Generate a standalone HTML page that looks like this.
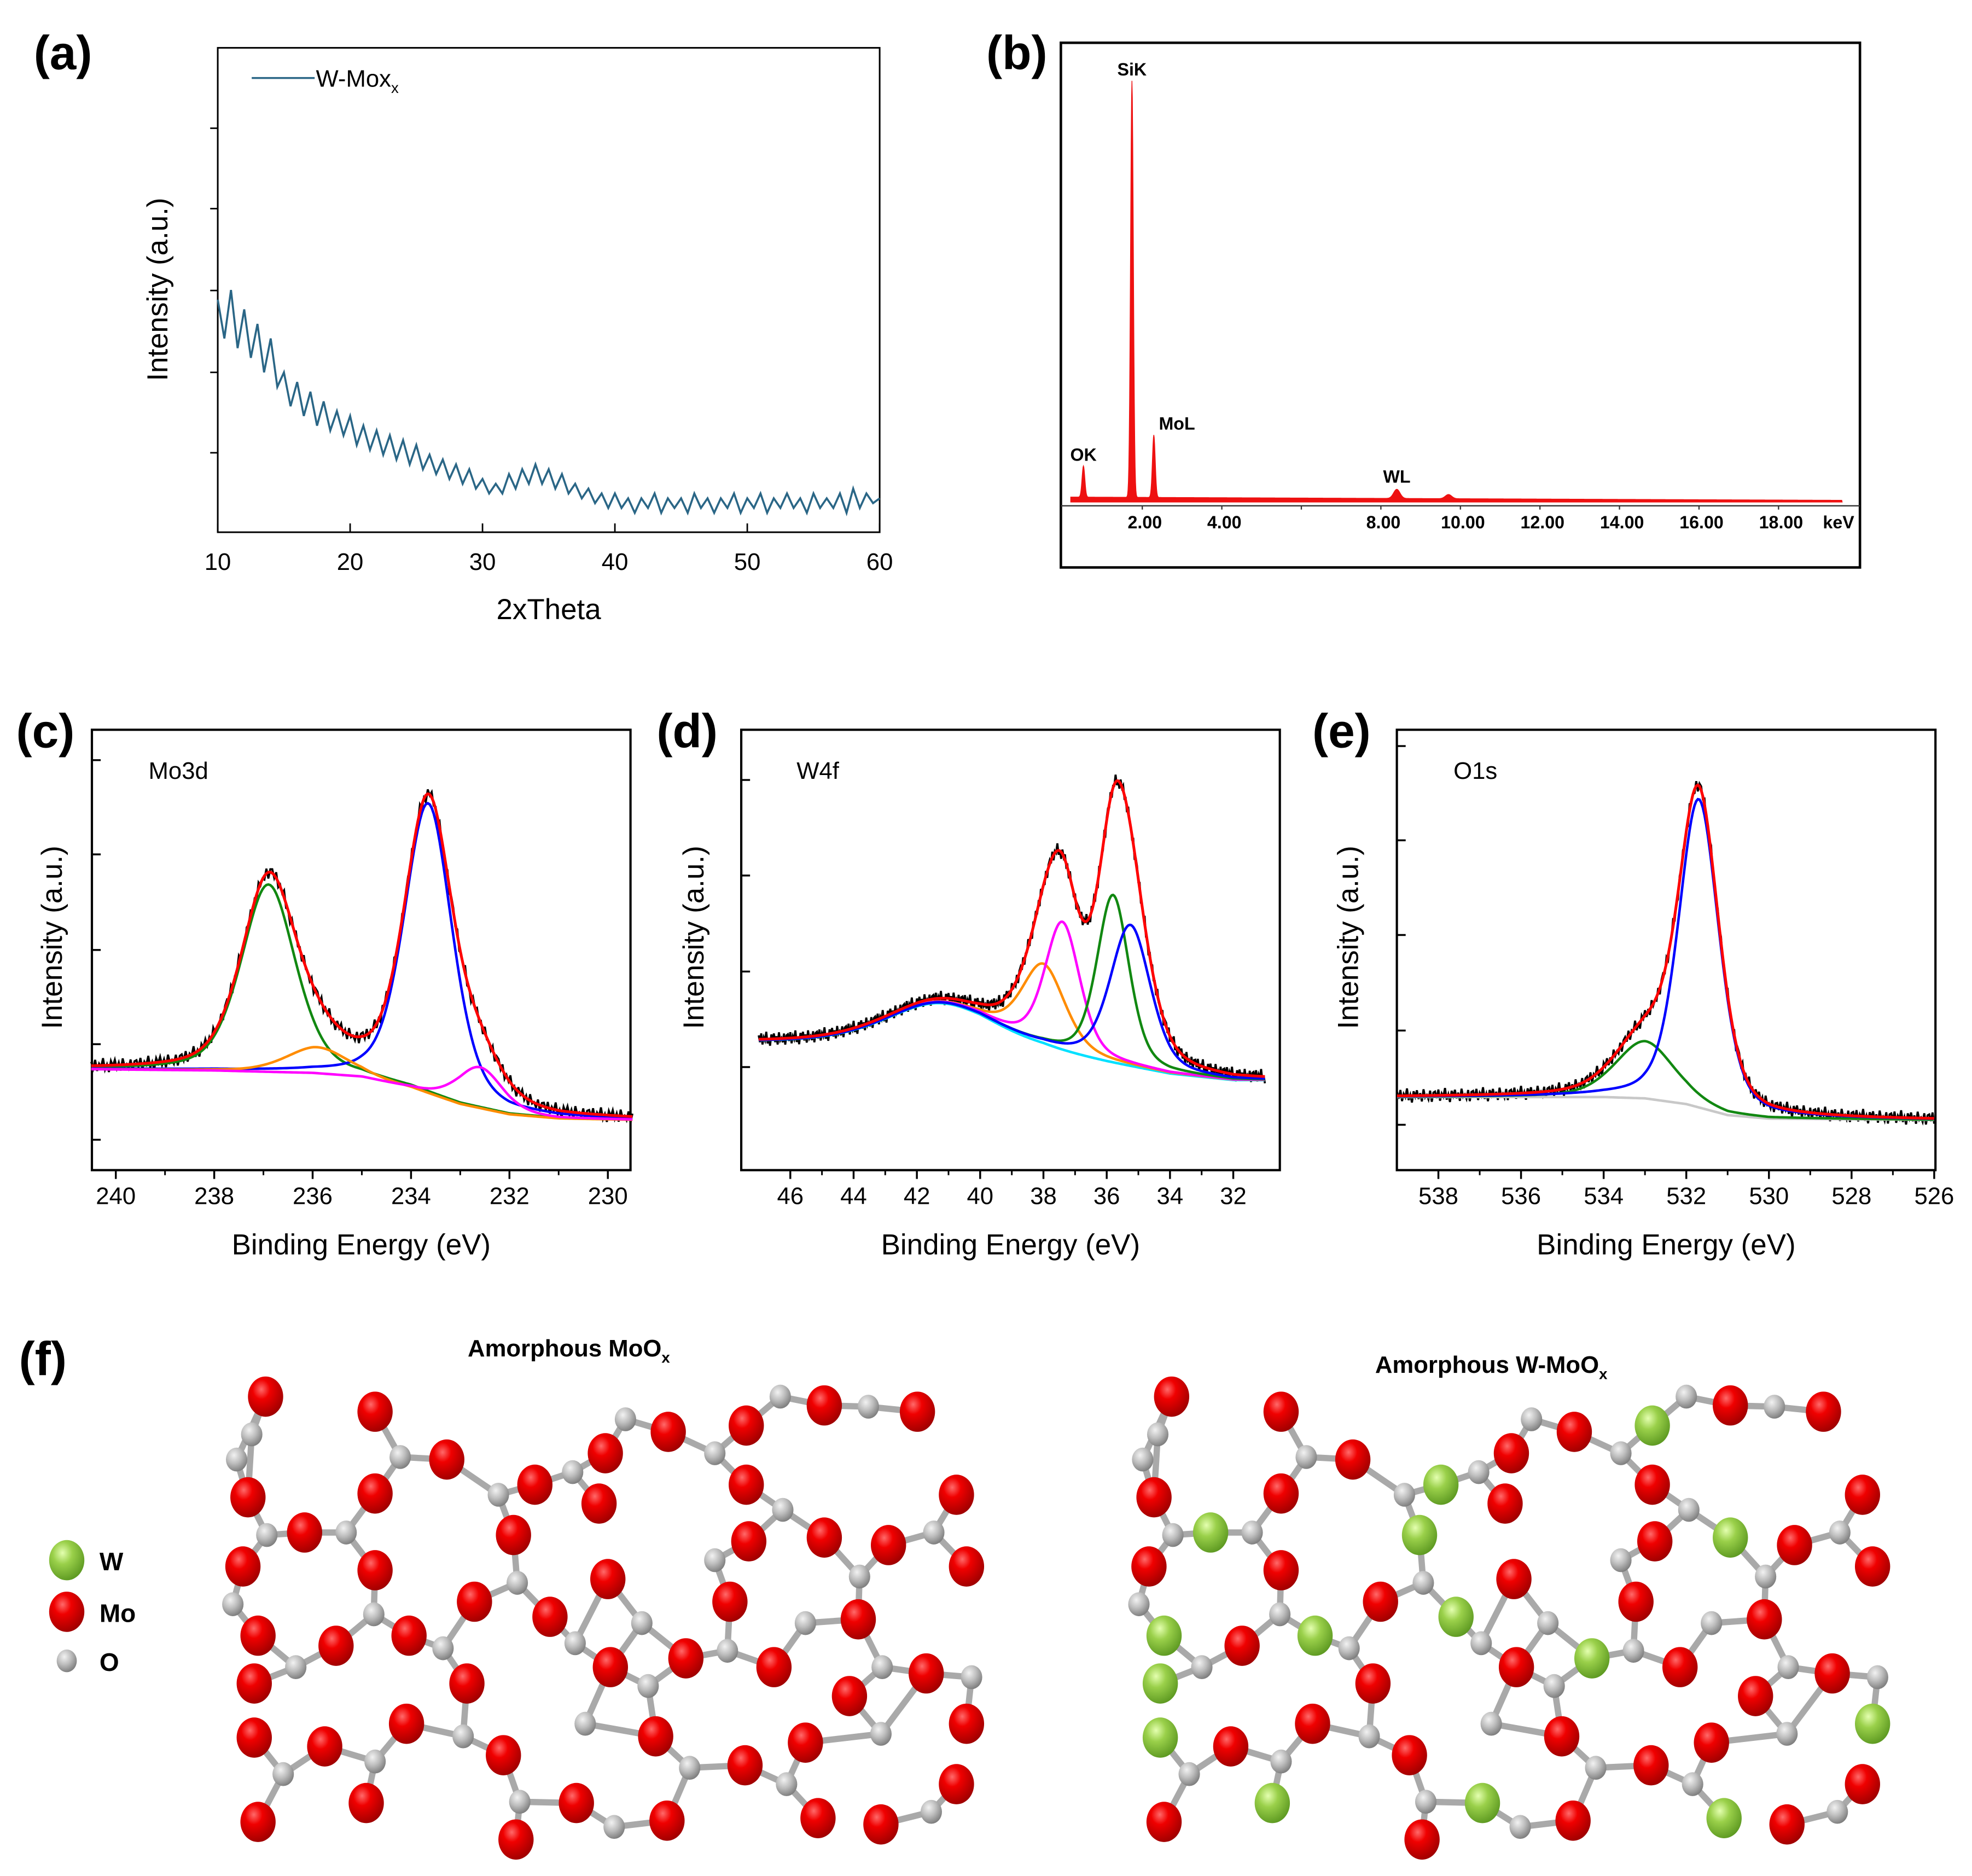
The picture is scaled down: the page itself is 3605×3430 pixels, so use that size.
<!DOCTYPE html>
<html><head><meta charset="utf-8"><style>
html,body{margin:0;padding:0;background:#fff}
svg{display:block}
text{font-family:"Liberation Sans",Arial,sans-serif}
</style></head><body>
<svg id="fig" xmlns="http://www.w3.org/2000/svg" width="3605" height="3430" viewBox="0 0 1567 1491">
<defs>
<radialGradient id="gRed" cx="0.38" cy="0.32" r="0.7"><stop offset="0" stop-color="#ff6a6a"/><stop offset="0.35" stop-color="#f00000"/><stop offset="1" stop-color="#a00000"/></radialGradient>
<radialGradient id="gGreen" cx="0.38" cy="0.32" r="0.7"><stop offset="0" stop-color="#e4ffb0"/><stop offset="0.4" stop-color="#9ad04a"/><stop offset="1" stop-color="#5e9a22"/></radialGradient>
<radialGradient id="gGray" cx="0.38" cy="0.32" r="0.7"><stop offset="0" stop-color="#f2f2f2"/><stop offset="0.5" stop-color="#bdbdbd"/><stop offset="1" stop-color="#7d7d7d"/></radialGradient>
</defs>
<g id="layer"></g>
<text x="50" y="55" font-size="38" font-weight="bold" text-anchor="middle">(a)</text>
<text x="808" y="55" font-size="38" font-weight="bold" text-anchor="middle">(b)</text>
<text x="36" y="594" font-size="38" font-weight="bold" text-anchor="middle">(c)</text>
<text x="546" y="594" font-size="38" font-weight="bold" text-anchor="middle">(d)</text>
<text x="1066" y="594" font-size="38" font-weight="bold" text-anchor="middle">(e)</text>
<text x="34" y="1093" font-size="38" font-weight="bold" text-anchor="middle">(f)</text>
<text x="436" y="492" font-size="23" text-anchor="middle">2xTheta</text>
<text transform="translate(133,230) rotate(-90)" font-size="23" text-anchor="middle">Intensity (a.u.)</text>
<line x1="200" y1="62" x2="250" y2="62" stroke="#2a6686" stroke-width="1.5"/>
<text x="251" y="69" font-size="19">W-Mox<tspan font-size="12" dy="5">x</tspan></text>
<text x="287" y="997" font-size="23" text-anchor="middle">Binding Energy (eV)</text>
<text x="803" y="997" font-size="23" text-anchor="middle">Binding Energy (eV)</text>
<text x="1324" y="997" font-size="23" text-anchor="middle">Binding Energy (eV)</text>
<text transform="translate(49,745) rotate(-90)" font-size="23" text-anchor="middle">Intensity (a.u.)</text>
<text transform="translate(559,745) rotate(-90)" font-size="23" text-anchor="middle">Intensity (a.u.)</text>
<text transform="translate(1079,745) rotate(-90)" font-size="23" text-anchor="middle">Intensity (a.u.)</text>
<text x="118" y="619" font-size="19">Mo3d</text>
<text x="633" y="619" font-size="19">W4f</text>
<text x="1155" y="619" font-size="19">O1s</text>
<text x="452" y="1078" font-size="19" font-weight="bold" text-anchor="middle">Amorphous MoO<tspan font-size="12" dy="5">x</tspan></text>
<text x="1185" y="1091" font-size="19" font-weight="bold" text-anchor="middle">Amorphous W-MoO<tspan font-size="12" dy="5">x</tspan></text>
<g>
<ellipse cx="53" cy="1240" rx="14" ry="16" fill="url(#gGreen)"/>
<text x="79" y="1248" font-size="20" font-weight="bold">W</text>
<ellipse cx="53" cy="1281" rx="14" ry="16" fill="url(#gRed)"/>
<text x="79" y="1289" font-size="20" font-weight="bold">Mo</text>
<ellipse cx="53" cy="1320" rx="8" ry="9" fill="url(#gGray)"/>
<text x="79" y="1328" font-size="20" font-weight="bold">O</text>
</g>
</svg>
<script>
// ---------- data (a) XRD ----------
const xrdStart = 10, xrdStep = 0.5;
const xrdIntensity = [48,40,50,38,46,36,43,33,40,30, 33,26,31,24,29,22,27,21,25,20, 24,18,22,17,21,16,20,15,19,14, 18,13,16,12,15,11,14,10,13,9, 11,8,10,8,12,9,13,10,14,10, 13,9,12,8,10,7,9,6,8,5, 8,5,7,4,7,5,8,4,7,5, 7,4,8,5,7,4,7,5,8,4, 7,5,8,4,7,5,8,5,7,4, 8,5,7,5,8,4,9,5,8,6, 7];
const xrdXTicks = [10,20,30,40,50,60];
const xrdYTicks = [16.4,33,49.9,66.8,83.4];
// ---------- data (b) EDS ----------
const edsLabels = ['OK','SiK','MoL','WL',''];
const edsEnergy = [0.52,1.74,2.29,8.4,9.7];
const edsCounts = [7.5,100,15,2.2,1];
const edsTicks = [2,4,6,8,10,12,14,16,18];
const edsTickLabels = ['2.00','4.00','','8.00','10.00','12.00','14.00','16.00','18.00'];
// ---------- data (c) Mo3d ----------
const moBg = [[240.5,22.9],[238,22.6],[236,22],[235,21.1],[234,18.6],[233,14.9],[232,12.6],[231,11.7],[229.5,11.4]];
const moCenters = [236.9,233.65,235.9,232.6];
const moHeights = [42.6,66,6,9.4];
const moWidths = [1.3,1.15,1.5,1.1];
const moColors = ['#118811','#0000ff','#ff8c00','#ff00ff'];
const moXTicks = [240,238,236,234,232,230];
const moYTicks = [6.9,28.6,50,71.7,93.1];
// ---------- data (d) W4f ----------
const wBg = [[47,29.1],[42,29],[40,28.8],[38,27.1],[36,24.3],[34,21.7],[32,20.3],[31,20.3]];
const wBroadCenter = 41.3, wBroadHeight = 9, wBroadWidth = 4;
const wCenters = [38.0,37.4,35.8,35.25];
const wHeights = [18,29,38,32];
const wWidths = [1.6,1.3,1.2,1.5];
const wColors = ['#ff8c00','#ff00ff','#118811','#0000ff'];
const wXTicks = [46,44,42,40,38,36,34,32];
const wYTicks = [23.4,45.1,66.9,88.6];
// ---------- data (e) O1s ----------
const oBg = [[539,16.6],[534,16.6],[533,16.3],[532,15],[531,12.5],[530,11.7],[526,11.4]];
const oCenters = [533.0,531.7];
const oHeights = [13,70];
const oWidths = [1.7,1.15];
const oColors = ['#118811','#0000ff'];
const oXTicks = [538,536,534,532,530,528,526];
const oYTicks = [10.3,31.7,53.4,74.9,96.3];
// measurement noise residuals (hand-read, cycled)
const noise = [0.8,-0.6,1.2,-1.1,0.4,-0.3,1.5,-0.9,0.2,-1.4,0.9,-0.2,1.1,-0.7,0.5,-1.2,1.3,-0.4,0.1,-0.8,1.0,-1.3,0.6];

const NS='http://www.w3.org/2000/svg';
const layer=document.getElementById('layer');
function mk(tag,attrs){const e=document.createElementNS(NS,tag);for(const k in attrs)e.setAttribute(k,attrs[k]);layer.appendChild(e);return e;}
function pathD(pts){return pts.map((p,i)=>(i?'L':'M')+p[0].toFixed(2)+' '+p[1].toFixed(2)).join('');}
function interp(tbl,x){for(let i=0;i<tbl.length-1;i++){const a=tbl[i],b=tbl[i+1];if((x<=a[0]&&x>=b[0])||(x>=a[0]&&x<=b[0])){const t=(x-a[0])/(b[0]-a[0]);return a[1]+t*(b[1]-a[1]);}}return tbl[tbl.length-1][1];}
function pv(x,c,h,w){const u=(x-c)/w;return h*(0.6*Math.exp(-4*Math.LN2*u*u)+0.4/(1+4*u*u));}

// ---------- panel (a) ----------
{
const x0=173,x1=699,y0=38,y1=423;
const sx=v=>x0+(v-10)/50*(x1-x0), sy=v=>y1-v/100*(y1-y0);
const f=mk('rect',{x:x0,y:y0,width:x1-x0,height:y1-y0,fill:'none',stroke:'#000','stroke-width':1.3});


xrdXTicks.forEach(t=>{
 const l=mk('line',{x1:sx(t),x2:sx(t),y1:y1,y2:y1-7,stroke:'#000','stroke-width':1.2});
 
 
 const tx=mk('text',{x:sx(t),y:y1+30,'font-size':19,'text-anchor':'middle'});tx.textContent=t;
 
 
});
xrdYTicks.forEach(t=>{
 const l=mk('line',{x1:x0,x2:x0-6,y1:sy(t),y2:sy(t),stroke:'#000','stroke-width':1.2});
 
 
});
const pts=xrdIntensity.map((v,i)=>[sx(xrdStart+i*xrdStep),sy(v)]);
const p=mk('path',{d:pathD(pts),fill:'none',stroke:'#2a6686','stroke-width':1.6});


}
// ---------- panel (b) ----------
{
const fr=mk('rect',{x:843,y:34,width:635,height:417,fill:'none',stroke:'#000','stroke-width':2});


const bx=v=>844.5+v*31.6, by=v=>399-v*3.31, base=399;
const ax=mk('line',{x1:843,x2:1478,y1:402,y2:402,stroke:'#333','stroke-width':1});


edsTicks.forEach((t,i)=>{
 const l=mk('line',{x1:bx(t),x2:bx(t),y1:402,y2:405,stroke:'#333','stroke-width':1});
 
 
 const tx=mk('text',{x:bx(t)+2,y:420,'font-size':14,'font-weight':'bold','text-anchor':'middle'});tx.textContent=edsTickLabels[i];
 
 
});
const kv=mk('text',{x:1461,y:420,'font-size':14,'font-weight':'bold','text-anchor':'middle'});kv.textContent='keV';


const pts=[[bx(0.2),base]];
for(let e=0.2;e<=19.6;e+=0.01){let c=1.2-e*0.04;if(c<0.3)c=0.3;edsEnergy.forEach((en,i)=>{const s=en<3?0.035:0.08;c+=edsCounts[i]*Math.exp(-0.5*((e-en)/s)**2);});pts.push([bx(e),by(c)]);}
pts.push([bx(19.6),base]);
const sp=mk('path',{d:pathD(pts)+'Z',fill:'#ee1111',stroke:'#ee1111','stroke-width':0.6});


edsLabels.forEach((lb,i)=>{if(!lb)return;
 const tx=mk('text',{x:bx(edsEnergy[i])+(lb==='MoL'?4:0),y:by(edsCounts[i])-8,'font-size':14,'font-weight':'bold','text-anchor':lb==='MoL'?'start':'middle'});tx.textContent=lb;
 
 
});
}
// ---------- XPS helper ----------
function xps(cfg){
 const {x0,x1,lo,hi,xa,xb,ticks,yticks,bg,comps,broad,key}=cfg;
 const y0=580,y1=930;
 const sx=v=>xa+(v-ticks[0])*(xb-xa)/(ticks[ticks.length-1]-ticks[0]);
 const sy=v=>y1-v*3.5;
 const f=mk('rect',{x:x0,y:y0,width:x1-x0,height:y1-y0,fill:'none',stroke:'#000','stroke-width':1.8});
 
 
 ticks.forEach(t=>{
  const l=mk('line',{x1:sx(t),x2:sx(t),y1:y1,y2:y1+7,stroke:'#000','stroke-width':1.5});
  
  
  const tx=mk('text',{x:sx(t),y:957,'font-size':19,'text-anchor':'middle'});tx.textContent=t;
  
  
 });
 for(let i=0;i<ticks.length-1;i++){const m=(ticks[i]+ticks[i+1])/2;
  const l=mk('line',{x1:sx(m),x2:sx(m),y1:y1,y2:y1+4,stroke:'#000','stroke-width':1.3});
  
  }
 yticks.forEach(t=>{
  const l=mk('line',{x1:x0,x2:x0+7,y1:sy(t),y2:sy(t),stroke:'#000','stroke-width':1.5});
  
  
 });
 const xs=[];for(let x=hi;x>=lo-1e-9;x-=0.04)xs.push(x);
 const broadAt=x=>broad?pv(x,broad.c,broad.h,broad.w):0;
 const env=xs.map(x=>interp(bg,x)+broadAt(x)+comps.reduce((s,c)=>s+pv(x,c.c,c.h,c.w),0));
 const data=xs.map((x,i)=>[sx(x),sy(env[i]+noise[i%noise.length]*1.1)]);
 const bp=mk('path',{d:pathD(data),fill:'none',stroke:'#000','stroke-width':1.6});
 
 
 if(cfg.bgColor){const g=mk('path',{d:pathD(xs.map(x=>[sx(x),sy(interp(bg,x))])),fill:'none',stroke:cfg.bgColor,'stroke-width':2});
  
  }
 if(broad){const g=mk('path',{d:pathD(xs.map(x=>[sx(x),sy(interp(bg,x)+broadAt(x))])),fill:'none',stroke:'#00e0ff','stroke-width':2});
  
  }
 comps.forEach(c=>{
  const g=mk('path',{d:pathD(xs.map(x=>[sx(x),sy(interp(bg,x)+broadAt(x)+pv(x,c.c,c.h,c.w))])),fill:'none',stroke:c.col,'stroke-width':2});
  
  
 });
 const r=mk('path',{d:pathD(xs.map((x,i)=>[sx(x),sy(env[i])])),fill:'none',stroke:'#ff0000','stroke-width':2.2});
 
 
}
xps({key:'c',x0:73,x1:501,lo:229.5,hi:240.5,xa:92,xb:483,ticks:moXTicks,yticks:moYTicks,bg:moBg,
 comps:moCenters.map((c,i)=>({c,h:moHeights[i],w:moWidths[i],col:moColors[i]}))});
xps({key:'d',x0:589,x1:1017,lo:31,hi:47,xa:628,xb:980,ticks:wXTicks,yticks:wYTicks,bg:wBg,
 broad:{c:wBroadCenter,h:wBroadHeight,w:wBroadWidth},
 comps:wCenters.map((c,i)=>({c,h:wHeights[i],w:wWidths[i],col:wColors[i]}))});
xps({key:'e',x0:1110,x1:1538,lo:526,hi:539,xa:1143,xb:1537,ticks:oXTicks,yticks:oYTicks,bg:oBg,bgColor:'#c8c8c8',
 comps:oCenters.map((c,i)=>({c,h:oHeights[i],w:oWidths[i],col:oColors[i]}))});

// ---------- panel (f) molecular structures ----------
const moAtoms=[[211,1110],[298,1122],[531,1138],[593,1133],[655,1117],[729,1122],[481,1155],[355,1160],[425,1180],[593,1180],
[197,1190],[298,1187],[242,1218],[408,1220],[476,1195],[595,1225],[655,1222],[706,1228],[760,1188],[768,1245],[193,1245],[298,1248],
[377,1273],[437,1285],[483,1255],[580,1273],[682,1287],[205,1300],[267,1308],[325,1300],[202,1338],[371,1338],[485,1325],[545,1318],[615,1325],[675,1348],[736,1330],[768,1370],
[202,1381],[258,1388],[323,1370],[400,1395],[521,1380],[640,1385],[592,1403],[205,1448],[291,1433],[458,1433],[530,1447],[650,1445],[700,1450],[760,1418],[410,1462]];
const oAtoms=[[200,1140],[188,1160],[212,1220],[185,1275],[235,1325],[275,1218],[318,1158],[297,1283],[352,1310],[396,1188],[411,1258],[455,1170],[497,1128],[568,1155],[568,1240],[620,1110],[690,1118],[622,1200],[683,1253],[742,1218],[457,1306],[515,1340],[578,1312],[701,1325],[772,1333],[225,1410],[298,1400],[368,1380],[413,1432],[488,1452],[548,1405],[625,1418],[740,1440],[700,1378],[465,1370],[640,1290],[510,1290]];
const wAtoms=[[1313,1135],[1145,1180],[962,1220],[1377,1222],[1158,1287],[1045,1302],[1265,1320],[920,1340],[1490,1373],[1012,1435],[1177,1432],[1370,1445]];
[0,720].forEach((dx,side)=>{
 const heavy=moAtoms.map(a=>{const p=[a[0]+dx,a[1]];let g=false;if(side)wAtoms.forEach(w=>{if(Math.hypot(w[0]-p[0],w[1]-p[1])<45)g=true;});return [p[0],p[1],g];});
 oAtoms.forEach(o=>{const ox=o[0]+dx,oy=o[1];
  heavy.map(h=>[h,Math.hypot(h[0]-ox,h[1]-oy)]).filter(z=>z[1]<62).sort((a,b)=>a[1]-b[1]).slice(0,3).forEach(z=>{
   const b=mk('line',{x1:ox,y1:oy,x2:z[0][0],y2:z[0][1],stroke:'#a9a9a9','stroke-width':5,'stroke-linecap':'round'});
   
   
  });});
 oAtoms.forEach(o=>{const c=mk('ellipse',{cx:o[0]+dx,cy:o[1],rx:8.5,ry:9.5,fill:'url(#gGray)'});
  
  });
 heavy.forEach(h=>{const c=mk('ellipse',{cx:h[0],cy:h[1],rx:14,ry:16,fill:h[2]?'url(#gGreen)':'url(#gRed)'});
  
  });
});
</script>
</body></html>
